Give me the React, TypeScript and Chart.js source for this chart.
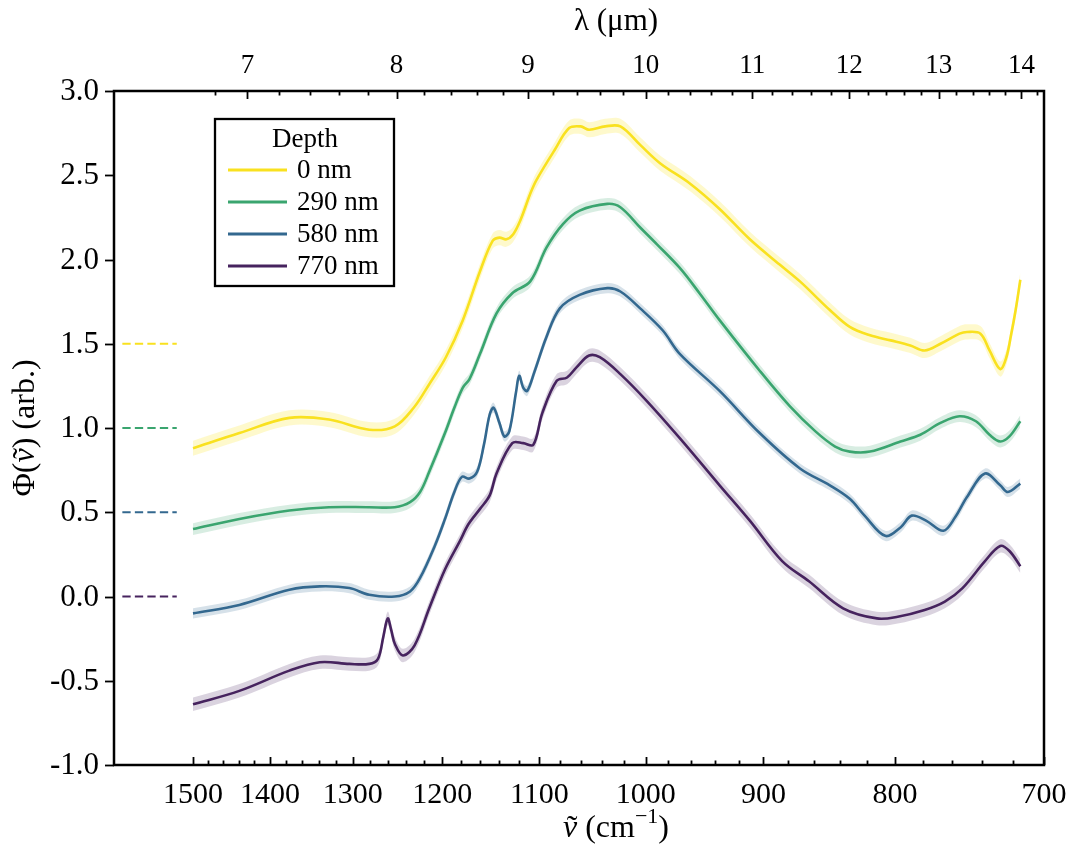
import React, { useEffect, useRef } from 'react';
import { Chart, registerables } from 'chart.js';

Chart.register(...registerables);

const W = 1069;
const H = 853;
const SERIF = '"Liberation Serif", "DejaVu Serif", serif';

// ---- data ----
const depthLabels = ['0 nm', '290 nm', '580 nm', '770 nm'];
const lineColors = ['#f9e11f', '#3aa56f', '#33688f', '#46235e'];
const bandColors = [
  'rgba(250,228,40,0.24)',
  'rgba(58,165,111,0.2)',
  'rgba(51,104,143,0.2)',
  'rgba(70,35,94,0.2)',
];
const baselineOffsets = [1.5, 1.0, 0.5, 0.0];
const bandHalfWidth = [0.045, 0.035, 0.03, 0.04];

const nu0 = [1500, 1439, 1376, 1328, 1281, 1252, 1231, 1214, 1196, 1178, 1160, 1147, 1140, 1133, 1126, 1119, 1109, 1103, 1085, 1071, 1060, 1052, 1037, 1023, 1005, 987, 961, 936, 911, 887, 871, 848, 833, 818, 803, 789, 779, 768, 755, 750, 741, 735, 728, 724, 721, 718, 715];
const phi0 = [0.88, 0.97, 1.06, 1.05, 0.99, 1.01, 1.12, 1.26, 1.42, 1.64, 1.93, 2.11, 2.13, 2.12, 2.15, 2.23, 2.39, 2.47, 2.65, 2.78, 2.79, 2.77, 2.79, 2.79, 2.68, 2.57, 2.45, 2.30, 2.12, 1.97, 1.87, 1.70, 1.60, 1.55, 1.52, 1.49, 1.46, 1.50, 1.56, 1.57, 1.56, 1.46, 1.35, 1.42, 1.55, 1.70, 1.88];

const nu1 = [1500, 1439, 1376, 1328, 1281, 1252, 1235, 1224, 1214, 1197, 1187, 1178, 1171, 1160, 1143, 1127, 1109, 1093, 1077, 1061, 1035, 1023, 1005, 990, 970, 953, 936, 903, 879, 859, 844, 833, 818, 796, 782, 768, 755, 744, 735, 728, 722, 715];
const phi1 = [0.40, 0.46, 0.51, 0.53, 0.53, 0.53, 0.56, 0.62, 0.74, 0.97, 1.12, 1.24, 1.29, 1.44, 1.68, 1.80, 1.87, 2.07, 2.21, 2.29, 2.33, 2.31, 2.19, 2.09, 1.95, 1.80, 1.64, 1.34, 1.13, 0.98, 0.89, 0.86, 0.86, 0.92, 0.96, 1.03, 1.07, 1.04, 0.96, 0.92, 0.95, 1.04];

const nu2 = [1500, 1439, 1376, 1339, 1304, 1281, 1252, 1235, 1224, 1208, 1197, 1187, 1179, 1171, 1163, 1156, 1150, 1146, 1140, 1135, 1130, 1123, 1120, 1116, 1112, 1105, 1093, 1080, 1061, 1035, 1023, 1005, 985, 970, 936, 903, 871, 848, 833, 822, 807, 796, 788, 778, 766, 758, 750, 738, 728, 723, 715];
const phi2 = [-0.10, -0.05, 0.04, 0.06, 0.05, 0.01, 0.00, 0.03, 0.11, 0.30, 0.46, 0.62, 0.71, 0.70, 0.74, 0.90, 1.08, 1.12, 1.03, 0.95, 0.98, 1.22, 1.31, 1.24, 1.22, 1.33, 1.54, 1.71, 1.79, 1.83, 1.81, 1.71, 1.58, 1.44, 1.22, 0.97, 0.76, 0.66, 0.58, 0.48, 0.36, 0.41, 0.48, 0.45, 0.39, 0.47, 0.59, 0.73, 0.66, 0.62, 0.67];

const nu3 = [1500, 1439, 1376, 1339, 1304, 1281, 1271, 1265, 1260, 1256, 1252, 1243, 1230, 1214, 1197, 1181, 1172, 1160, 1150, 1143, 1127, 1116, 1106, 1097, 1083, 1073, 1064, 1052, 1042, 1023, 999, 970, 936, 911, 885, 864, 838, 813, 798, 779, 765, 753, 738, 728, 722, 715];
const phi3 = [-0.64, -0.56, -0.44, -0.39, -0.40, -0.40, -0.37, -0.24, -0.13, -0.20, -0.28, -0.35, -0.29, -0.07, 0.16, 0.33, 0.43, 0.52, 0.60, 0.73, 0.91, 0.91, 0.90, 1.09, 1.28, 1.30, 1.36, 1.43, 1.42, 1.32, 1.16, 0.94, 0.66, 0.45, 0.21, 0.09, -0.07, -0.13, -0.12, -0.08, -0.03, 0.05, 0.21, 0.30, 0.27, 0.18];

const seriesNu = [nu0, nu1, nu2, nu3];
const seriesPhi = [phi0, phi1, phi2, phi3];

const baselineNuRange = [1598, 1522];
const xMin = 700;
const xMax = 1610;
const yMin = -1;
const yMax = 3;

const wavenumberMajorTicks = [1500, 1400, 1300, 1200, 1100, 1000, 900, 800, 700];
const wavenumberMinorStep = 20;
const wavelengthMajorTicks = [7, 8, 9, 10, 11, 12, 13, 14];
const wavelengthMinorStart = 6.8;
const wavelengthMinorEnd = 14.2;
const yTickValues = [3.0, 2.5, 2.0, 1.5, 1.0, 0.5, 0.0, -0.5, -1.0];

const TENSION = 0.35;

type Part = { t: string; italic?: boolean; sup?: boolean; tilde?: boolean };

function drawRich(ctx: CanvasRenderingContext2D, parts: Part[], cx: number, cy: number, size: number) {
  const fontFor = (p: Part) => `${p.italic ? 'italic ' : ''}${p.sup ? Math.round(size * 0.7) : size}px ${SERIF}`;
  let total = 0;
  const widths = parts.map((p) => {
    ctx.font = fontFor(p);
    const w = ctx.measureText(p.t).width;
    total += w;
    return w;
  });
  let x = cx - total / 2;
  ctx.textBaseline = 'middle';
  ctx.textAlign = 'left';
  parts.forEach((p, i) => {
    ctx.font = fontFor(p);
    const dy = p.sup ? -size * 0.38 : 0;
    ctx.fillText(p.t, x, cy + dy);
    if (p.tilde) {
      ctx.font = `${size}px ${SERIF}`;
      const tw = ctx.measureText('\u02DC').width;
      ctx.fillText('\u02DC', x + widths[i] / 2 - tw / 2 + size * 0.06, cy - size * 0.02);
    }
    x += widths[i];
  });
}

const axesPlugin = {
  id: 'customAxes',
  afterDraw(chart: any) {
    const { ctx, chartArea: a, scales } = chart;
    const xs = scales.x;
    const ys = scales.y;
    ctx.save();
    ctx.strokeStyle = '#000';
    ctx.fillStyle = '#000';
    ctx.lineCap = 'butt';

    // bottom ticks (inward)
    ctx.lineWidth = 1.8;
    for (let v = 700; v <= 1500; v += wavenumberMinorStep) {
      const px = Math.round(xs.getPixelForValue(v)) + 0.5;
      const major = wavenumberMajorTicks.includes(v);
      const len = major ? 8 : 4.5;
      ctx.beginPath();
      ctx.moveTo(px, a.bottom);
      ctx.lineTo(px, a.bottom - len);
      ctx.stroke();
    }
    // top ticks (inward), wavelength in µm
    for (let l = wavelengthMinorStart; l <= wavelengthMinorEnd + 1e-6; l += 0.2) {
      const lam = Math.round(l * 10) / 10;
      const px = Math.round(xs.getPixelForValue(10000 / lam)) + 0.5;
      const major = Math.abs(lam - Math.round(lam)) < 1e-6;
      const len = major ? 8 : 4.5;
      ctx.beginPath();
      ctx.moveTo(px, a.top);
      ctx.lineTo(px, a.top + len);
      ctx.stroke();
    }
    // y ticks (outward)
    for (const v of yTickValues) {
      const py = Math.round(ys.getPixelForValue(v)) + 0.5;
      ctx.beginPath();
      ctx.moveTo(a.left, py);
      ctx.lineTo(a.left - 9, py);
      ctx.stroke();
    }

    // spines
    ctx.lineWidth = 2.5;
    ctx.strokeRect(a.left, a.top, a.right - a.left, a.bottom - a.top);

    // tick labels
    ctx.textBaseline = 'middle';
    ctx.textAlign = 'right';
    ctx.font = `31px ${SERIF}`;
    for (const v of yTickValues) {
      ctx.fillText(v.toFixed(1), a.left - 15, ys.getPixelForValue(v) + 1);
    }
    ctx.textAlign = 'center';
    ctx.font = `30px ${SERIF}`;
    for (const v of wavenumberMajorTicks) {
      ctx.fillText(String(v), xs.getPixelForValue(v), a.bottom + 30);
    }
    ctx.font = `27px ${SERIF}`;
    for (const l of wavelengthMajorTicks) {
      ctx.fillText(String(l), xs.getPixelForValue(10000 / l), a.top - 25);
    }

    // axis titles
    drawRich(ctx, [{ t: '\u03BB (\u03BCm)' }], 616, 22, 31);
    drawRich(
      ctx,
      [{ t: '\u03BD', italic: true, tilde: true }, { t: ' (cm' }, { t: '\u22121', sup: true }, { t: ')' }],
      616,
      829,
      32
    );
    ctx.save();
    ctx.translate(26, (a.top + a.bottom) / 2);
    ctx.rotate(-Math.PI / 2);
    drawRich(
      ctx,
      [{ t: '\u03A6(' }, { t: '\u03BD', italic: true, tilde: true }, { t: ') (arb.)' }],
      0,
      0,
      32
    );
    ctx.restore();

    // legend
    const bx = 215, by = 119, bw = 179, bh = 167;
    ctx.fillStyle = '#fff';
    ctx.fillRect(bx, by, bw, bh);
    ctx.lineWidth = 2.3;
    ctx.strokeStyle = '#000';
    ctx.strokeRect(bx, by, bw, bh);
    ctx.fillStyle = '#000';
    ctx.font = `27px ${SERIF}`;
    ctx.textAlign = 'center';
    ctx.textBaseline = 'middle';
    ctx.fillText('Depth', 305, 140);
    const rows = [170, 202, 234, 266];
    ctx.textAlign = 'left';
    depthLabels.forEach((lab, i) => {
      ctx.strokeStyle = lineColors[i];
      ctx.lineWidth = 2.8;
      ctx.beginPath();
      ctx.moveTo(228, rows[i]);
      ctx.lineTo(287, rows[i]);
      ctx.stroke();
      ctx.fillStyle = '#000';
      ctx.fillText(lab, 297, rows[i] + 1);
    });
    ctx.restore();
  },
};

export default function App() {
  const canvasRef = useRef<HTMLCanvasElement | null>(null);

  useEffect(() => {
    document.body.style.margin = '0';
    const canvas = canvasRef.current;
    if (!canvas) return;
    let chart: Chart | null = null;
    let cancelled = false;

    const build = () => {
      if (cancelled) return;
      const datasets: any[] = [];
      seriesNu.forEach((nu, i) => {
        const phi = seriesPhi[i];
        datasets.push({
          label: 'band-upper',
          data: nu.map((n, k) => ({ x: n, y: phi[k] + bandHalfWidth[i] })),
          borderWidth: 0,
          borderColor: 'rgba(0,0,0,0)',
          pointRadius: 0,
          fill: '+1',
          backgroundColor: bandColors[i],
          tension: TENSION,
          order: 3,
        });
        datasets.push({
          label: 'band-lower',
          data: nu.map((n, k) => ({ x: n, y: phi[k] - bandHalfWidth[i] })),
          borderWidth: 0,
          borderColor: 'rgba(0,0,0,0)',
          pointRadius: 0,
          fill: false,
          tension: TENSION,
          order: 3,
        });
      });
      baselineOffsets.forEach((off, i) => {
        datasets.push({
          label: 'baseline',
          data: baselineNuRange.map((n) => ({ x: n, y: off })),
          borderColor: lineColors[i],
          borderWidth: 2.2,
          borderDash: [8.3, 4.2],
          pointRadius: 0,
          fill: false,
          order: 1,
        });
      });
      seriesNu.forEach((nu, i) => {
        const phi = seriesPhi[i];
        datasets.push({
          label: depthLabels[i],
          data: nu.map((n, k) => ({ x: n, y: phi[k] })),
          borderColor: lineColors[i],
          borderWidth: 2.6,
          pointRadius: 0,
          fill: false,
          tension: TENSION,
          order: 0,
        });
      });

      chart = new Chart(canvas, {
        type: 'line',
        data: { datasets },
        options: {
          responsive: false,
          animation: false,
          devicePixelRatio: 1,
          events: [],
          layout: { padding: { left: 114, right: W - 1044, top: 91, bottom: H - 765 } },
          plugins: {
            legend: { display: false },
            tooltip: { enabled: false },
            title: { display: false },
          },
          scales: {
            x: { type: 'logarithmic', min: xMin, max: xMax, reverse: true, display: false },
            y: { type: 'linear', min: yMin, max: yMax, display: false },
          },
        } as any,
        plugins: [axesPlugin],
      });
    };

    const fontsReady = (document as any).fonts
      ? Promise.all([
          (document as any).fonts.load(`30px "Liberation Serif"`),
          (document as any).fonts.load(`italic 30px "Liberation Serif"`),
        ]).catch(() => null)
      : Promise.resolve(null);
    fontsReady.then(build);

    return () => {
      cancelled = true;
      if (chart) chart.destroy();
    };
  }, []);

  return (
    <div style={{ width: W, height: H, background: '#fff' }}>
      <canvas ref={canvasRef} width={W} height={H} style={{ display: 'block' }} />
    </div>
  );
}
